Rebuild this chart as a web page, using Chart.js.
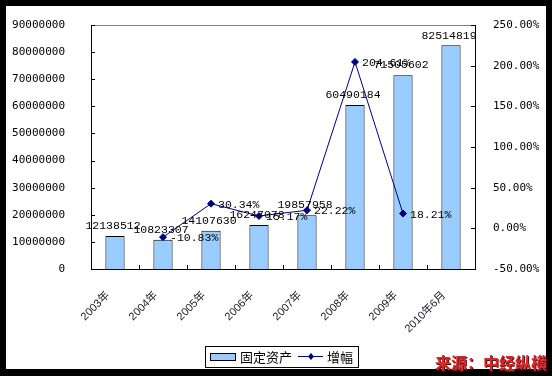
<!DOCTYPE html>
<html lang="zh-CN">
<head>
    <meta charset="UTF-8">
    <title>固定资产及增幅</title>
    <script src="https://cdn.jsdelivr.net/npm/chart.js"></script>
    <style>
        html, body { margin: 0; padding: 0; background: #000; }
        #wrap { width: 552px; height: 376px; }
    </style>
</head>
<body>
<div id="wrap"><canvas id="assetChart" width="552" height="376"></canvas></div>

<script>
    // 数据
    const categories = ['2003年', '2004年', '2005年', '2006年', '2007年', '2008年', '2009年', '2010年6月'];
    const assetValues = [12138512, 10823307, 14107630, 16247078, 19857958, 60490184, 71505602, 82514819];
    const growthValues = [null, -10.83, 30.34, 15.17, 22.22, 204.61, 18.21, null];
    const leftTicks = [0, 10000000, 20000000, 30000000, 40000000, 50000000, 60000000, 70000000, 80000000, 90000000];
    const rightTicks = [-50, 0, 50, 100, 150, 200, 250];

    const barColor = '#99ccff';
    const lineColor = '#000080';
    const labelFont = "11.5px 'Liberation Mono', monospace";

    // 背景、边框、内向刻度、数据标签、图例、来源
    const decorPlugin = {
        id: 'decor',
        beforeDraw(chart) {
            const ctx = chart.ctx;
            ctx.save();
            ctx.fillStyle = '#000';
            ctx.fillRect(0, 0, chart.width, chart.height);
            ctx.fillStyle = '#fff';
            ctx.fillRect(6, 6, 540, 363);
            ctx.restore();
        },
        afterDraw(chart) {
            const ctx = chart.ctx;
            const area = chart.chartArea;
            const sx = chart.scales.x, sy = chart.scales.y, sy1 = chart.scales.y1;
            ctx.save();

            // 顶部灰线
            ctx.strokeStyle = '#808080';
            ctx.lineWidth = 1;
            ctx.beginPath();
            ctx.moveTo(area.left, Math.round(area.top) + 0.5);
            ctx.lineTo(area.right, Math.round(area.top) + 0.5);
            ctx.stroke();

            // 内向刻度
            ctx.strokeStyle = '#000';
            ctx.beginPath();
            leftTicks.forEach(v => {
                const y = Math.round(sy.getPixelForValue(v)) + 0.5;
                ctx.moveTo(area.left, y);
                ctx.lineTo(area.left + 4, y);
            });
            rightTicks.forEach(v => {
                const y = Math.round(sy1.getPixelForValue(v)) + 0.5;
                ctx.moveTo(area.right, y);
                ctx.lineTo(area.right - 4, y);
            });
            for (let i = 1; i < categories.length; i++) {
                const x = Math.round((sx.getPixelForValue(i - 1) + sx.getPixelForValue(i)) / 2) + 0.5;
                ctx.moveTo(x, area.bottom);
                ctx.lineTo(x, area.bottom - 4);
            }
            ctx.stroke();

            // 柱子标签
            ctx.font = labelFont;
            ctx.fillStyle = '#000';
            ctx.textAlign = 'center';
            ctx.textBaseline = 'bottom';
            chart.getDatasetMeta(0).data.forEach((bar, i) => {
                ctx.fillText(String(assetValues[i]), bar.x - 2, bar.y - 4);
            });

            // 折线标签
            ctx.textAlign = 'left';
            ctx.textBaseline = 'middle';
            chart.getDatasetMeta(1).data.forEach((pt, i) => {
                if (growthValues[i] === null) return;
                ctx.fillText(growthValues[i].toFixed(2) + '%', pt.x + 7, pt.y + 1);
            });

            // 图例
            ctx.fillStyle = '#fff';
            ctx.fillRect(205, 346, 153, 21);
            ctx.strokeStyle = '#000';
            ctx.strokeRect(205.5, 346.5, 153, 21);
            ctx.fillStyle = barColor;
            ctx.fillRect(210, 353, 26, 7);
            ctx.strokeRect(210.5, 353.5, 25, 7);
            ctx.font = "13px 'Noto Sans CJK SC'";
            ctx.fillStyle = '#000';
            ctx.textBaseline = 'middle';
            ctx.fillText(chart.data.datasets[0].label, 240, 357);
            ctx.strokeStyle = lineColor;
            ctx.beginPath();
            ctx.moveTo(298, 356.5);
            ctx.lineTo(323, 356.5);
            ctx.stroke();
            ctx.fillStyle = lineColor;
            ctx.beginPath();
            ctx.moveTo(311, 353);
            ctx.lineTo(314, 356.5);
            ctx.lineTo(311, 360);
            ctx.lineTo(308, 356.5);
            ctx.closePath();
            ctx.fill();
            ctx.fillStyle = '#000';
            ctx.fillText(chart.data.datasets[1].label, 327, 357);

            // 来源
            ctx.font = "bold 16px 'Noto Sans CJK SC'";
            ctx.textAlign = 'right';
            ctx.textBaseline = 'alphabetic';
            ctx.fillStyle = '#5a1010';
            ctx.fillText('来源：中经纵横', 548, 370);
            ctx.fillStyle = '#d42a2a';
            ctx.fillText('来源：中经纵横', 547, 369);

            ctx.restore();
        }
    };

    const ctx = document.getElementById('assetChart').getContext('2d');
    new Chart(ctx, {
        data: {
            labels: categories,
            datasets: [{
                type: 'bar',
                label: '固定资产',
                data: assetValues,
                yAxisID: 'y',
                backgroundColor: barColor,
                borderColor: '#000',
                borderWidth: 1,
                categoryPercentage: 1,
                barPercentage: 0.4,
                order: 1
            }, {
                type: 'line',
                label: '增幅',
                data: growthValues,
                yAxisID: 'y1',
                borderColor: lineColor,
                borderWidth: 1,
                backgroundColor: lineColor,
                pointStyle: 'rectRot',
                pointRadius: 3.5,
                pointHoverRadius: 3.5,
                tension: 0,
                order: 0
            }]
        },
        options: {
            responsive: false,
            animation: false,
            layout: { padding: { left: 6, right: 6, top: 25, bottom: 0 } },
            plugins: {
                legend: { display: false },
                tooltip: { enabled: false }
            },
            scales: {
                x: {
                    offset: true,
                    grid: { display: false },
                    border: { display: true, color: '#000', width: 1 },
                    ticks: {
                        color: '#1a1a2a',
                        font: { family: "'Liberation Sans', 'Noto Sans CJK SC'", size: 11 },
                        minRotation: 45,
                        maxRotation: 45,
                        padding: 12,
                        labelOffset: -7
                    },
                    afterFit(scale) { scale.height = 107; }
                },
                y: {
                    position: 'left',
                    min: 0,
                    max: 90000000,
                    grid: { display: false },
                    border: { display: true, color: '#000', width: 1 },
                    ticks: {
                        stepSize: 10000000,
                        color: '#000',
                        padding: 18,
                        font: { family: "'DejaVu Sans Mono'", size: 11 },
                        callback: v => String(v)
                    },
                    afterFit(scale) { scale.width = 85; }
                },
                y1: {
                    position: 'right',
                    min: -50,
                    max: 250,
                    grid: { display: false },
                    border: { display: true, color: '#000', width: 1 },
                    ticks: {
                        stepSize: 50,
                        color: '#000',
                        padding: 10,
                        font: { family: "'DejaVu Sans Mono'", size: 11 },
                        callback: v => v.toFixed(2) + '%'
                    },
                    afterFit(scale) { scale.width = 71; }
                }
            }
        },
        plugins: [decorPlugin]
    });
</script>
</body>
</html>
